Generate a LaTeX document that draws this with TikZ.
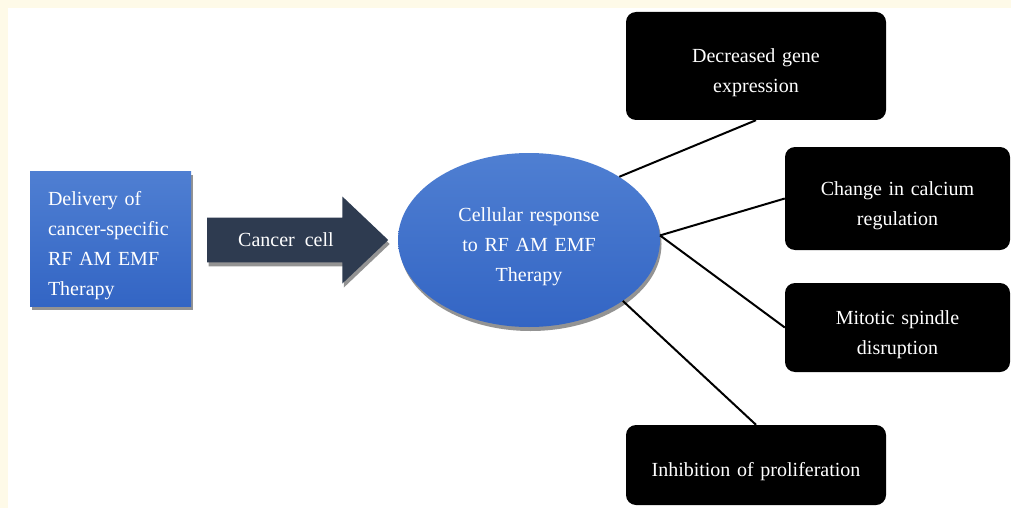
\documentclass[tikz,border=0pt]{standalone}
\usepackage{fontspec}
\setmainfont{Liberation Serif}
\usetikzlibrary{shapes.geometric,shapes.arrows,shadows}
\definecolor{cream}{HTML}{FEFAE8}
\definecolor{bluetop}{HTML}{4F7FD2}
\definecolor{bluebot}{HTML}{3365C4}
\definecolor{slate}{HTML}{2E3B50}
\protected\def\diagfont{\fontsize{20}{30}\selectfont\spaceskip=0.5em\relax}
\tikzset{
    softshadow/.style={drop shadow={shadow xshift=1.5pt, shadow yshift=-4pt, opacity=0.6, fill=black!70}},
    lowered/.style={text height=28pt},
    therapy/.style={top color=bluetop, bottom color=bluebot, text=white, align=left,
        text width=125pt, inner xsep=18pt, minimum height=135pt, softshadow, lowered},
    response/.style={ellipse, top color=bluetop, bottom color=bluebot, text=white, align=center,
        text width=155pt, minimum width=262pt, minimum height=174pt, inner sep=0pt, softshadow, lowered},
    outcome/.style={fill=black, rounded corners=10pt, text=white, align=center, inner sep=0pt, lowered},
    link/.style={line width=2pt, black},
}
\begin{document}
\begin{tikzpicture}[x=1pt,y=-1pt,font=\diagfont]
    \fill[cream] (0,0) rectangle (1011,508);
    \fill[white] (8,8) rectangle (1011,508);
    \useasboundingbox (0,0) rectangle (1011,508);
            \node[therapy] (delivery) at (110.5,238.5) {Delivery of\\cancer-specific\\RF AM EMF\\Therapy};
            \node[single arrow, fill=slate, text=white, minimum height=181pt, minimum width=87pt, inner ysep=15pt,
                single arrow head extend=21pt, single arrow tip angle=87, anchor=tail, softshadow] (cell) at (207,240) {Cancer cell};
            \node[response] (resp) at (529,240) {Cellular response\\to RF AM EMF\\Therapy};
            %
            \node[outcome, text width=260pt, minimum height=108pt] (gene) at (756,66) {Decreased gene\\expression};
            \node[outcome, text width=225pt, minimum height=103pt] (calcium) at (897.5,198.5) {Change in calcium\\regulation};
            \node[outcome, text width=225pt, minimum height=89pt] (spindle) at (897.5,327.5) {Mitotic spindle\\disruption};
            \node[outcome, text width=260pt, minimum height=80pt] (prolif) at (756,465) {Inhibition of proliferation};
            %
            \draw[link] (resp.35) -- (gene.south);
            \draw[link] (resp.2) -- (calcium.west);
            \draw[link] (resp.2) -- (spindle.west);
            \draw[link] (resp.-33) -- (prolif.north);
        \end{tikzpicture}
\end{document}
